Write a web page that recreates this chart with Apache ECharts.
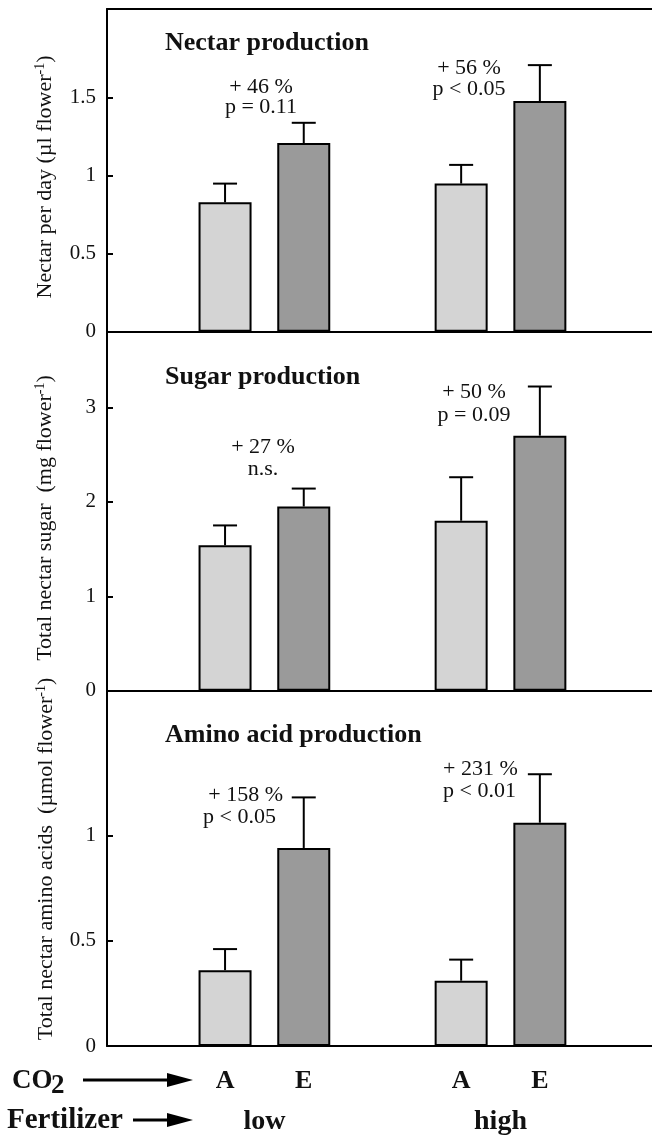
<!DOCTYPE html>
<html>
<head>
<meta charset="utf-8">
<script src="https://cdn.jsdelivr.net/npm/echarts@6/dist/echarts.min.js"></script>
<style>
  html, body { margin: 0; padding: 0; background: #fff; }
  #chart { width: 652px; height: 1138px; }
</style>
</head>
<body>
<div id="chart"></div>
<script>
// ---------- data ----------
const co2Levels = ['A', 'E'];
const fertilizerLevels = ['low', 'high'];
// x positions (slot units): low-A, low-E, high-A, high-E
const barPositions = [1.5, 2.5, 4.5, 5.5];
const barCo2 = [co2Levels[0], co2Levels[1], co2Levels[0], co2Levels[1]];
const fertilizerPositions = [2, 5];
const xMax = 6.925;

const panelTitles = ['Nectar production', 'Sugar production', 'Amino acid production'];
const yTitleMain = ['Nectar per day (µl flower', 'Total nectar sugar  (mg flower', 'Total nectar amino acids  (µmol flower'];

// order: low-A, low-E, high-A, high-E
const nectarMean  = [0.83, 1.21, 0.95, 1.48];
const nectarUpper = [0.95, 1.34, 1.07, 1.71];
const sugarMean   = [1.54, 1.95, 1.80, 2.70];
const sugarUpper  = [1.75, 2.14, 2.26, 3.22];
const aminoMean   = [0.36, 0.94, 0.31, 1.06];
const aminoUpper  = [0.46, 1.18, 0.41, 1.29];

const nectarTicks = [0, 0.5, 1, 1.5];
const sugarTicks  = [0, 1, 2, 3];
const aminoTicks  = [0, 0.5, 1];
const yMax = [2.07, 3.8, 1.686];

const annotations = [
  [['+ 46 %', 'p = 0.11'], ['+ 56 %', 'p < 0.05']],
  [['+ 27 %', 'n.s.'], ['+ 50 %', 'p = 0.09']],
  [['+ 158 %', 'p < 0.05'], ['+ 231 %', 'p < 0.01']]
];

// ---------- layout / style ----------
const FONT = '"Liberation Serif", "Times New Roman", serif';
const LIGHT = '#d4d4d4', DARK = '#9a9a9a', INK = '#111';
const gridLeft = 107, gridRight = 0;
const grids = [
  { left: gridLeft, right: gridRight, top: 9, height: 322.7 },
  { left: gridLeft, right: gridRight, top: 331.7, height: 359.1 },
  { left: gridLeft, right: gridRight, top: 690.8, height: 355.2 }
];

const means = [nectarMean, sugarMean, aminoMean];
const uppers = [nectarUpper, sugarUpper, aminoUpper];
const ticks = [nectarTicks, sugarTicks, aminoTicks];

const xAxes = [], yAxes = [], series = [];
for (let p = 0; p < 3; p++) {
  xAxes.push({
    type: 'value', gridIndex: p, min: 0, max: xMax, position: 'bottom',
    axisLine: { show: true, onZero: false, lineStyle: { color: '#000', width: 2 } },
    axisTick: { show: false },
    axisLabel: p === 2 ? {
      show: true, color: INK, fontFamily: FONT, fontWeight: 'bold', fontSize: 26, margin: 22,
      customValues: barPositions, formatter: v => barCo2[barPositions.indexOf(v)]
    } : { show: false },
    splitLine: { show: false }
  });
  yAxes.push({
    type: 'value', gridIndex: p, min: 0, max: yMax[p],
    axisLine: { show: true, onZero: false, lineStyle: { color: '#000', width: 2 } },
    axisTick: { show: true, inside: true, length: 6, lineStyle: { color: '#000', width: 2 }, customValues: ticks[p] },
    axisLabel: { show: true, color: INK, fontFamily: FONT, fontSize: 21, margin: 11, customValues: ticks[p] },
    splitLine: { show: false }
  });
  const barStyleCommon = { borderColor: '#000', borderWidth: 2 };
  series.push({
    type: 'bar', xAxisIndex: p, yAxisIndex: p, barWidth: 53, barGap: '-100%', silent: true,
    data: [[barPositions[0], means[p][0]], [barPositions[2], means[p][2]]],
    itemStyle: Object.assign({ color: LIGHT }, barStyleCommon)
  });
  series.push({
    type: 'bar', xAxisIndex: p, yAxisIndex: p, barWidth: 53, barGap: '-100%', silent: true,
    data: [[barPositions[1], means[p][1]], [barPositions[3], means[p][3]]],
    itemStyle: Object.assign({ color: DARK }, barStyleCommon)
  });
  series.push({
    type: 'custom', xAxisIndex: p, yAxisIndex: p, z: 3, silent: true,
    data: barPositions.map((s, i) => [s, means[p][i], uppers[p][i]]),
    renderItem: function (params, api) {
      const x = api.value(0), m = api.value(1), u = api.value(2);
      const a = api.coord([x, m]), b = api.coord([x, u]);
      return {
        type: 'group', children: [
          { type: 'line', shape: { x1: a[0], y1: a[1], x2: b[0], y2: b[1] }, style: { stroke: '#000', lineWidth: 2 } },
          { type: 'line', shape: { x1: b[0] - 12, y1: b[1], x2: b[0] + 12, y2: b[1] }, style: { stroke: '#000', lineWidth: 2 } }
        ]
      };
    }
  });
}
// top frame line of the first panel
xAxes.push({
  type: 'value', gridIndex: 0, min: 0, max: xMax, position: 'top',
  axisLine: { show: true, onZero: false, lineStyle: { color: '#000', width: 2 } },
  axisTick: { show: false }, axisLabel: { show: false }, splitLine: { show: false }
});
// fertilizer labels
xAxes.push({
  type: 'value', gridIndex: 2, min: 0, max: xMax, position: 'bottom',
  axisLine: { show: false }, axisTick: { show: false }, splitLine: { show: false },
  axisLabel: {
    show: true, customValues: fertilizerPositions, margin: 62,
    color: INK, fontFamily: FONT, fontWeight: 'bold', fontSize: 28,
    formatter: v => fertilizerLevels[fertilizerPositions.indexOf(v)]
  }
});

// ---------- texts ----------
const graphics = [];
const titleY = [43, 377, 735];
panelTitles.forEach((t, i) => graphics.push({
  type: 'text', x: 165, y: titleY[i], silent: true,
  style: { text: t, font: 'bold 26px ' + FONT, fill: INK, textAlign: 'left', textVerticalAlign: 'middle' }
}));
const yTitleCenter = [[45, 177], [45, 518], [46, 859]];
yTitleMain.forEach((t, i) => graphics.push({
  type: 'text', x: yTitleCenter[i][0], y: yTitleCenter[i][1], rotation: Math.PI / 2, silent: true,
  style: {
    text: '{a|' + t + '}{s|-1}{a|)}', textAlign: 'center', textVerticalAlign: 'middle', fill: INK,
    rich: {
      a: { fontFamily: FONT, fontSize: 22, color: INK, lineHeight: 24 },
      s: { fontFamily: FONT, fontSize: 14, color: INK, verticalAlign: 'top', lineHeight: 14 }
    }
  }
}));
// annotation positions: [x, y1, y2, align, x2(optional)]
const annPos = [
  [[261, 87, 107, 'center'], [469, 68, 89, 'center']],
  [[263, 447, 469, 'center'], [474, 392, 415, 'center']],
  [[283, 795, 817, 'right', 203], [443, 769, 791, 'left']]
];
annotations.forEach((panel, p) => panel.forEach((lines, g) => {
  const pos = annPos[p][g];
  graphics.push({
    type: 'text', x: pos[0], y: pos[1], silent: true,
    style: { text: lines[0], font: '22px ' + FONT, fill: INK, textAlign: pos[3], textVerticalAlign: 'middle' }
  });
  const x2 = pos[4] !== undefined ? pos[4] : pos[0];
  const a2 = pos[4] !== undefined ? 'left' : pos[3];
  graphics.push({
    type: 'text', x: x2, y: pos[2], silent: true,
    style: { text: lines[1], font: '22px ' + FONT, fill: INK, textAlign: a2, textVerticalAlign: 'middle' }
  });
}));
// row labels with arrows
graphics.push({ type: 'text', x: 12, y: 1081, silent: true,
  style: { text: 'CO', font: 'bold 27px ' + FONT, fill: INK, textAlign: 'left', textVerticalAlign: 'middle' } });
graphics.push({ type: 'text', x: 51, y: 1086, silent: true,
  style: { text: '2', font: 'bold 27px ' + FONT, fill: INK, textAlign: 'left', textVerticalAlign: 'middle' } });
graphics.push({ type: 'text', x: 7, y: 1121, silent: true,
  style: { text: 'Fertilizer', font: 'bold 29px ' + FONT, fill: INK, textAlign: 'left', textVerticalAlign: 'middle' } });
function arrow(x1, x2, y) {
  graphics.push({ type: 'line', silent: true, shape: { x1: x1, y1: y, x2: x2 - 20, y2: y }, style: { stroke: '#000', lineWidth: 3 } });
  graphics.push({ type: 'polygon', silent: true, shape: { points: [[x2 - 26, y - 7], [x2, y], [x2 - 26, y + 7]] }, style: { fill: '#000' } });
}
arrow(83, 193, 1080);
arrow(133, 193, 1120);

const chart = echarts.init(document.getElementById('chart'), null, { renderer: 'canvas' });
chart.setOption({
  animation: false,
  backgroundColor: '#fff',
  grid: grids,
  xAxis: xAxes,
  yAxis: yAxes,
  series: series,
  graphic: graphics
});
</script>
</body>
</html>
